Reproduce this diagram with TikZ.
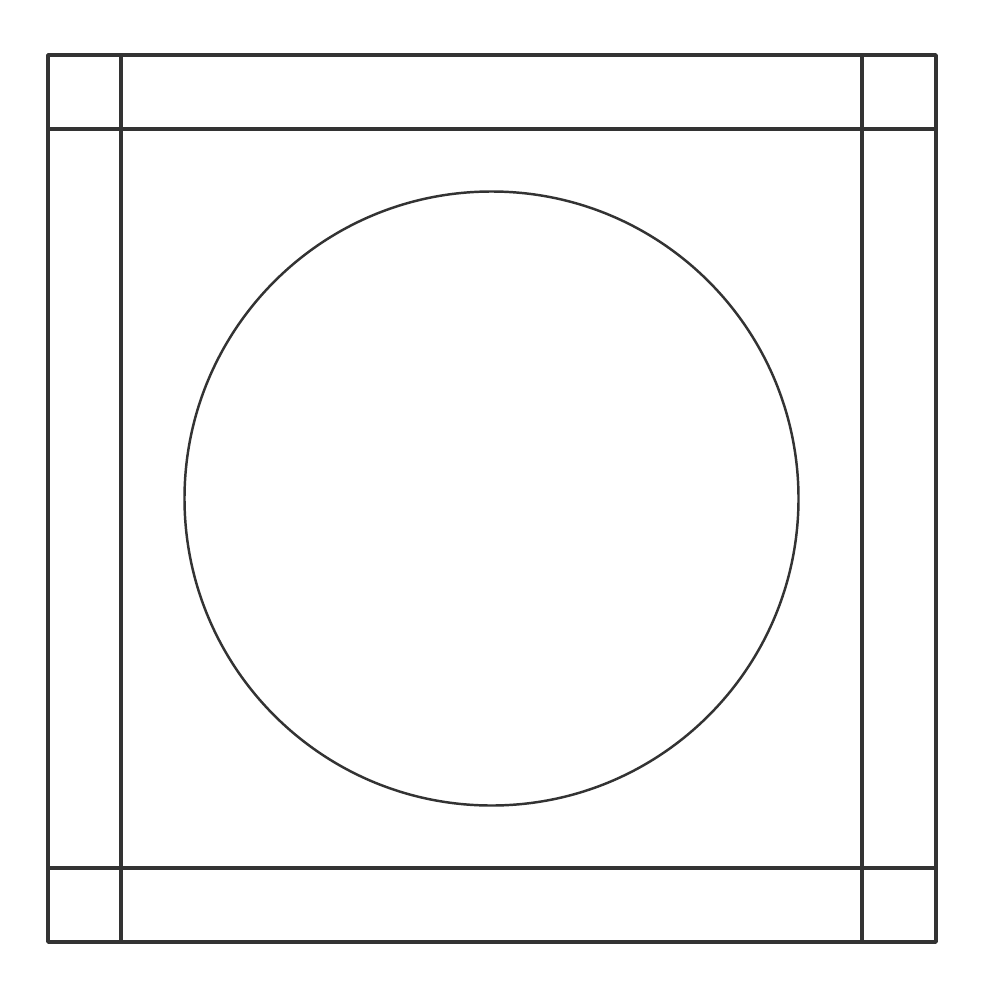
\documentclass[tikz,border=0pt]{standalone}
\begin{document}
\begin{tikzpicture}[x=0.01cm,y=-0.01cm,
  frame/.style={draw=black!80,line width=1pt,line join=round},
  ring/.style={draw=black!80,line width=0.7pt}]
\useasboundingbox (0,0) rectangle (1000,1000);
% outer square
\draw[frame] (48,55) rectangle (936,942);
% grid lines
\draw[frame] (121,55) -- (121,942);
\draw[frame] (862,55) -- (862,942);
\draw[frame] (48,129) -- (936,129);
\draw[frame] (48,868) -- (936,868);
% inner square emphasis
\draw[frame,line width=1.2pt] (121,129) rectangle (862,868);
% circle
\draw[ring] (491.5,498.5) circle [radius=307];
\end{tikzpicture}
\end{document}
